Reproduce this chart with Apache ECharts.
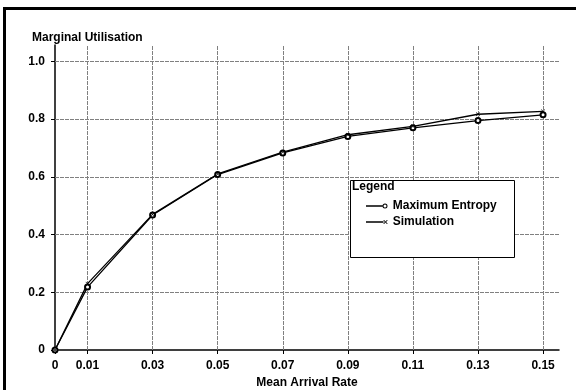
<!DOCTYPE html>
<html>
<head>
<meta charset="utf-8">
<script src="https://cdn.jsdelivr.net/npm/echarts@6/dist/echarts.min.js"></script>
<style>
  html, body { margin: 0; padding: 0; background: #fff; }
  #chart { width: 576px; height: 390px; }
</style>
</head>
<body>
<div id="chart"></div>
<script>
// arrival rates and the two curves
var rates = [0, 0.01, 0.03, 0.05, 0.07, 0.09, 0.11, 0.13, 0.15];
var maxEntropy = [0, 0.218, 0.468, 0.608, 0.683, 0.740, 0.770, 0.795, 0.815];
var simulation = [0, 0.230, 0.470, 0.610, 0.686, 0.746, 0.775, 0.817, 0.827];
var xTicks = [0, 0.01, 0.03, 0.05, 0.07, 0.09, 0.11, 0.13, 0.15];
var yTicks = [0, 0.2, 0.4, 0.6, 0.8, 1.0];

var font = 'Liberation Sans, Arial, sans-serif';
var crossIcon = 'path://M0,1L1,0L5,4L9,0L10,1L6,5L10,9L9,10L5,6L1,10L0,9L4,5Z';
// legend samples: short line with the marker at its right end
var meLegendIcon = 'path://M0,3.2H16.5V4.8H0Z' +
    'M16.5,4A2.5,2.5 0 1,1 21.5,4A2.5,2.5 0 1,1 16.5,4Z' +
    'M17.5,4A1.5,1.5 0 1,0 20.5,4A1.5,1.5 0 1,0 17.5,4Z';
var simLegendIcon = 'path://M0,3.2H17.5V4.8H0Z' +
    'M17.5,2L18.1,2L19.5,3.4L20.9,2L21.5,2L21.5,2.6L20.1,4L21.5,5.4L21.5,6L20.9,6L19.5,4.6L18.1,6L17.5,6L17.5,5.4L18.9,4L17.5,2.6Z' +
    'M0,1.5H0.01V6.5H0Z';

function pairs(xs, ys) {
    return xs.map(function (x, i) { return [x, ys[i]]; });
}

var gridLines = [];
xTicks.forEach(function (v) { if (v > 0) gridLines.push({ xAxis: v }); });
yTicks.forEach(function (v) { if (v > 0) gridLines.push({ yAxis: v }); });

var labelStyle = { fontFamily: font, fontSize: 12, fontWeight: 'bold', color: '#000' };

var myChart = echarts.init(document.getElementById('chart'));
myChart.setOption({
    animation: false,
    backgroundColor: '#fff',
    title: {
        text: 'Marginal Utilisation',
        left: 27, top: 27,
        textStyle: labelStyle
    },
    grid: { left: 55, top: 45, right: 17, bottom: 40, outerBoundsMode: 'none', containLabel: false },
    xAxis: {
        type: 'value',
        min: 0, max: 0.1549,
        name: 'Mean Arrival Rate',
        nameLocation: 'middle',
        nameGap: 27,
        nameTextStyle: labelStyle,
        axisLine: { lineStyle: { color: '#000', width: 1.5 } },
        axisTick: { customValues: xTicks, length: 4, lineStyle: { color: '#000' } },
        axisLabel: Object.assign({
            customValues: xTicks,
            margin: 10,
            formatter: function (v) { return v === 0 ? '0' : v.toFixed(2); }
        }, labelStyle),
        splitLine: { show: false }
    },
    yAxis: {
        type: 'value',
        min: 0, max: 1.057,
        axisLine: { show: true, lineStyle: { color: '#000', width: 1.5 } },
        axisTick: { show: true, customValues: yTicks, length: 4, lineStyle: { color: '#000' } },
        axisLabel: Object.assign({
            customValues: yTicks,
            margin: 10,
            formatter: function (v) { return v === 0 ? '0' : v.toFixed(1); }
        }, labelStyle),
        splitLine: { show: false }
    },
    legend: {
        data: [
            { name: 'Maximum Entropy', icon: meLegendIcon },
            { name: 'Simulation', icon: simLegendIcon }
        ],
        orient: 'vertical',
        left: 361, top: 195,
        itemWidth: 22, itemHeight: 5, itemGap: 4,
        itemStyle: { color: '#000', borderWidth: 0 },
        lineStyle: { width: 0 },
        z: 20,
        textStyle: labelStyle
    },
    graphic: [
        { type: 'rect', z: 15, shape: { x: 350.5, y: 180.5, width: 164, height: 77 },
          style: { fill: '#fff', stroke: '#000', lineWidth: 1 } },
        { type: 'text', z: 16, x: 352, y: 181,
          style: { text: 'Legend', fill: '#000', font: 'bold 12px ' + font } },
        { type: 'rect', z: 16, silent: true, shape: { x: 4.5, y: 8.5, width: 620, height: 420 },
          style: { fill: 'none', stroke: '#000', lineWidth: 3 } }
    ],
    series: [
        {
            name: 'grid',
            type: 'line',
            data: [],
            z: 1,
            silent: true,
            markLine: {
                silent: true,
                symbol: ['none', 'none'],
                label: { show: false },
                lineStyle: { color: '#808080', width: 1, type: [4, 1] },
                emphasis: { disabled: true },
                data: gridLines
            }
        },
        {
            name: 'Maximum Entropy',
            type: 'line',
            z: 5,
            data: pairs(rates, maxEntropy),
            symbol: 'emptyCircle',
            symbolSize: 5,
            lineStyle: { color: '#000', width: 1.3 },
            itemStyle: { color: '#000', borderColor: '#000', borderWidth: 1 }
        },
        {
            name: 'Simulation',
            type: 'line',
            z: 5,
            data: pairs(rates, simulation),
            symbol: crossIcon,
            symbolSize: 4,
            lineStyle: { color: '#000', width: 1.3 },
            itemStyle: { color: '#000' }
        }
    ]
});
window.onresize = myChart.resize;
</script>
</body>
</html>
